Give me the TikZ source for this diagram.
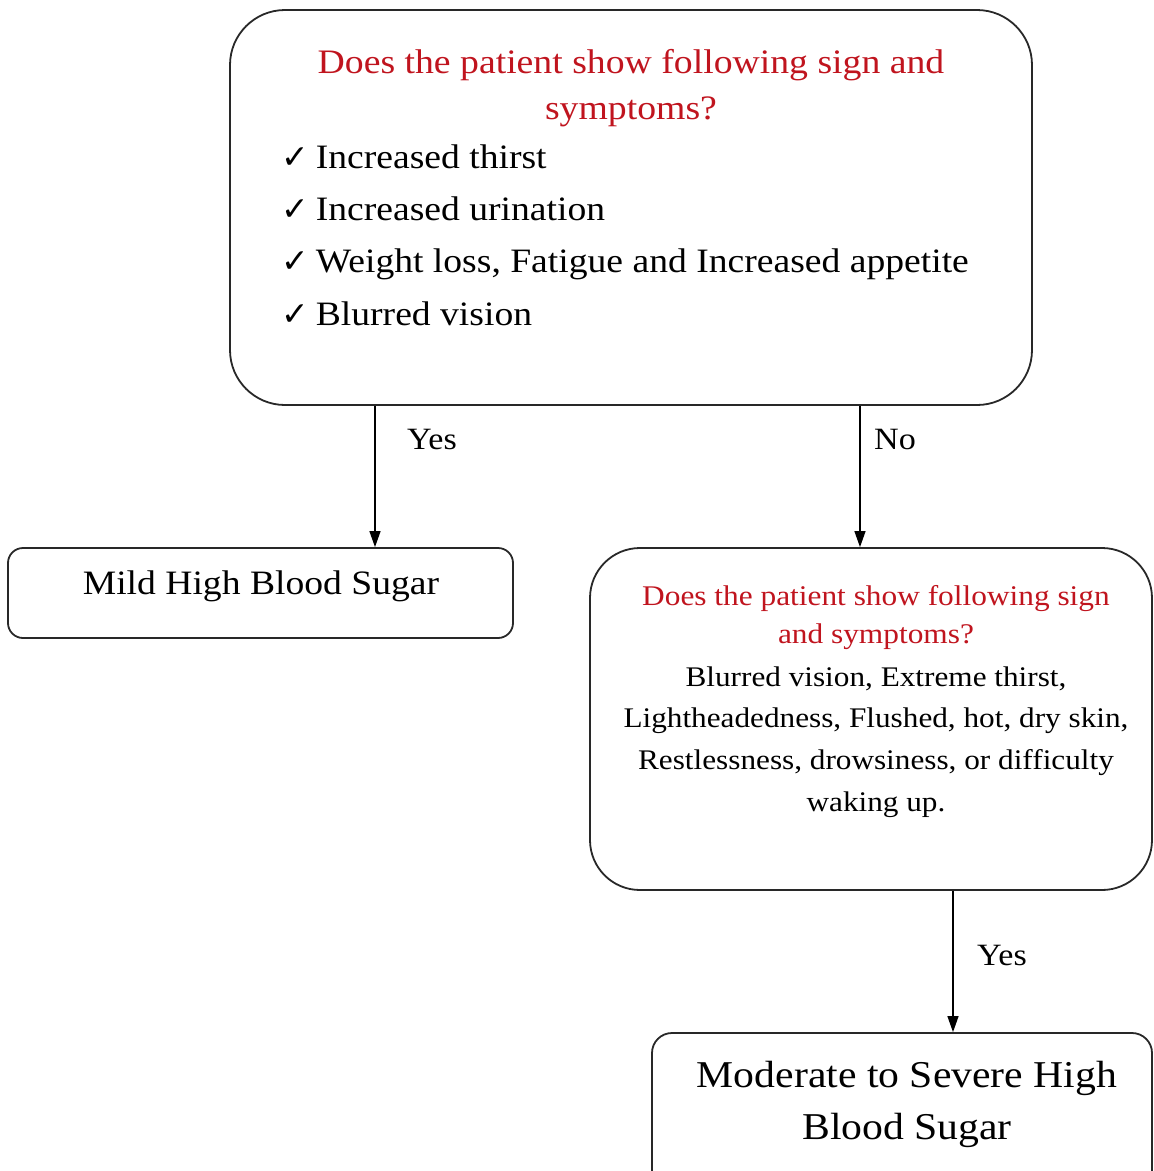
\documentclass[tikz,border=0pt]{standalone}
\usepackage{fontspec}
\setmainfont[FakeStretch=1.1]{Liberation Serif}
\newfontfamily\symfont{DejaVu Sans}
\usetikzlibrary{arrows.meta}
\definecolor{qred}{RGB}{192,20,30}
\definecolor{edge}{RGB}{40,40,40}
\newcommand{\tick}{{\symfont\fontsize{33}{33}\selectfont ✓}\hspace{7pt}}
\tikzset{
  box/.style={draw=edge, line width=1.8pt, inner sep=0pt},
  flow/.style={draw=black, line width=1.3pt, -{Triangle[length=16pt,width=11pt]}},
  lbl/.style={inner sep=0pt, font=\fontsize{31}{31}\selectfont},
}
\begin{document}
\begin{tikzpicture}[x=1pt,y=-1pt]
\useasboundingbox (0,0) rectangle (1154,1171);
\clip (0,0) rectangle (1154,1171);
% boxes
\node[box, rounded corners=55pt, minimum width=802pt, minimum height=395pt] (top) at (631,207.5) {};
\node[box, rounded corners=15pt, minimum width=505pt, minimum height=90pt] (mild) at (260.5,593) {};
\node[box, rounded corners=50pt, minimum width=562pt, minimum height=342pt] (second) at (871,719) {};
\node[box, rounded corners=20pt, minimum width=500pt, minimum height=157pt] (severe) at (902,1111.5) {};
% texts of the first question
\node[text=qred, align=center, inner sep=0pt, font=\fontsize{34.3}{46}\selectfont] (q1) at (631,88)
  {Does the patient show following sign and\\symptoms?};
\node[anchor=west, align=left, inner sep=0pt, font=\fontsize{34.2}{52.2}\selectfont] (list) at (281,235)
  {\tick Increased thirst\\
   \tick Increased urination\\
   \tick Weight loss, Fatigue and Increased appetite\\
   \tick Blurred vision};
% results and second question
\node[inner sep=0pt, font=\fontsize{34.2}{34.2}\selectfont] (mildtxt) at (261,586) {Mild High Blood Sugar};
\node[text=qred, align=center, inner sep=0pt, font=\fontsize{28.5}{38}\selectfont] (q2) at (876,618)
  {Does the patient show following sign\\and symptoms?};
\node[align=center, inner sep=0pt, font=\fontsize{28.4}{41.7}\selectfont] (q2body) at (876,742)
  {Blurred vision, Extreme thirst,\\Lightheadedness, Flushed, hot, dry skin,\\Restlessness, drowsiness, or difficulty\\waking up.};
\node[align=center, inner sep=0pt, font=\fontsize{37.9}{52}\selectfont] (severetxt) at (907,1104)
  {Moderate to Severe High\\Blood Sugar};
% connectors
\coordinate (yesx) at (375,0);
\coordinate (nox) at (860,0);
\coordinate (yes2x) at (953,0);
\draw[flow] (top.south -| yesx) -- (mild.north -| yesx);
\draw[flow] (top.south -| nox) -- (second.north -| nox);
\draw[flow] (second.south -| yes2x) -- (severe.north -| yes2x);
\node[lbl] (l1) at (432,439) {Yes};
\node[lbl] (l2) at (895,439) {No};
\node[lbl] (l3) at (1002,955) {Yes};
\end{tikzpicture}
\end{document}
